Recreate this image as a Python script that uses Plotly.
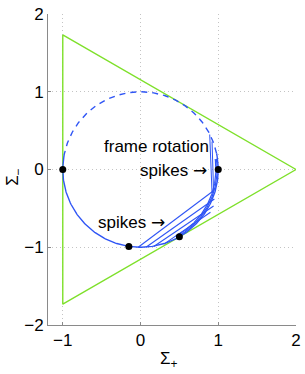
import numpy as np
import plotly.graph_objects as go

# --- data ---
triangle_x = [-1.0, -1.0, 2.0, -1.0]
triangle_y = [1.732, -1.732, 0.0, 1.732]

dashed_arc_deg = [12, 170]        # upper (dashed) part of the Kasner circle
solid_arc_deg = [170, 372]        # lower (solid) part
inner_arc_radius = [0.985, 0.97]  # thick inner arcs on lower right
inner_arc_deg = [-62, 8]

# spikes chords (x0, y0, x1, y1)
spike_x0 = [-0.03, 0.07, 0.17, 0.30]
spike_y0 = [-1.00, -1.00, -0.99, -0.96]
spike_x1 = [0.93, 0.95, 0.94, 0.90]
spike_y1 = [-0.28, -0.38, -0.47, -0.55]

# frame rotation lines
frame_x0 = [0.89, 0.92]
frame_y0 = [0.45, 0.36]
frame_x1 = [0.92, 0.94]
frame_y1 = [-0.30, -0.28]

dots_x = [-1.0, 1.0, -0.15, 0.5]
dots_y = [0.0, 0.0, -0.99, -0.866]

x_ticks = [-1, 0, 1, 2]
x_tick_text = ["\u22121", "0", "1", "2"]
y_ticks = [-2, -1, 0, 1, 2]
y_tick_text = ["\u22122", "\u22121", "0", "1", "2"]

ARROW = '<span style="font-family:DejaVu Sans">\u2192</span>'
labels = ["frame rotation", "spikes " + ARROW, "spikes " + ARROW]
label_x = [0.20, 0.42, -0.12]
label_y = [0.29, 0.0, -0.67]

BLUE = "#2f55f5"
GREEN = "#7ee02a"
FONT = "Liberation Sans, Arial, sans-serif"

def arc(r, a0, a1, n=200, cx=0.0, cy=0.0):
    t = np.radians(np.linspace(a0, a1, n))
    return cx + r * np.cos(t), cy + r * np.sin(t)

fig = go.Figure()

fig.add_trace(go.Scatter(x=triangle_x, y=triangle_y, mode="lines",
                         line=dict(color=GREEN, width=1.4), hoverinfo="skip"))

xd, yd = arc(1.0, *dashed_arc_deg)
fig.add_trace(go.Scatter(x=xd, y=yd, mode="lines",
                         line=dict(color=BLUE, width=1.4, dash="6px,5px")))
xs, ys = arc(1.0, *solid_arc_deg)
fig.add_trace(go.Scatter(x=xs, y=ys, mode="lines", line=dict(color=BLUE, width=1.4)))
for r in inner_arc_radius:
    xi, yi = arc(r, *inner_arc_deg)
    fig.add_trace(go.Scatter(x=xi, y=yi, mode="lines", line=dict(color=BLUE, width=1.2)))

for a, b, c, d in zip(spike_x0, spike_y0, spike_x1, spike_y1):
    fig.add_trace(go.Scatter(x=[a, c], y=[b, d], mode="lines",
                             line=dict(color=BLUE, width=1.1)))
for a, b, c, d in zip(frame_x0, frame_y0, frame_x1, frame_y1):
    fig.add_trace(go.Scatter(x=[a, c], y=[b, d], mode="lines",
                             line=dict(color=BLUE, width=1.0)))

fig.add_trace(go.Scatter(x=dots_x, y=dots_y, mode="markers",
                         marker=dict(color="black", size=7)))

for t, x, y in zip(labels, label_x, label_y):
    fig.add_annotation(x=x, y=y, text=t, showarrow=False, xref="x", yref="y",
                       font=dict(family=FONT, size=17, color="black"),
                       xanchor="center", yanchor="middle")

fig.add_annotation(x=0.488, y=-0.114, xref="paper", yref="paper",
                   text="\u03a3<sub>+</sub>", showarrow=False,
                   font=dict(family=FONT, size=17, color="black"),
                   xanchor="center", yanchor="middle")
fig.add_annotation(x=-0.135, y=0.475, xref="paper", yref="paper",
                   text="\u03a3<sub>\u2212</sub>", showarrow=False, textangle=-90,
                   font=dict(family=FONT, size=17, color="black"),
                   xanchor="center", yanchor="middle")

axis_common = dict(showgrid=True, gridcolor="#c4c4c4", griddash="1px,3px", gridwidth=1,
                   zeroline=False, showline=True, linecolor="#8a8a8a", linewidth=1,
                   ticks="inside", ticklen=3, tickcolor="#8a8a8a", automargin=False,
                   tickfont=dict(family=FONT, size=17, color="black"))

fig.update_layout(
    width=305, height=374,
    margin=dict(l=48, r=9, t=14, b=49, autoexpand=False),
    paper_bgcolor="white", plot_bgcolor="white",
    showlegend=False,
    xaxis=dict(range=[-1.19, 2.0], tickvals=x_ticks, ticktext=x_tick_text, **axis_common),
    yaxis=dict(range=[-2.0, 2.0], tickvals=y_ticks, ticktext=y_tick_text, **axis_common),
)

fig.write_html("out.html", config={"displayModeBar": False},
               post_script="document.body.style.margin='0';document.body.style.overflow='hidden';")
